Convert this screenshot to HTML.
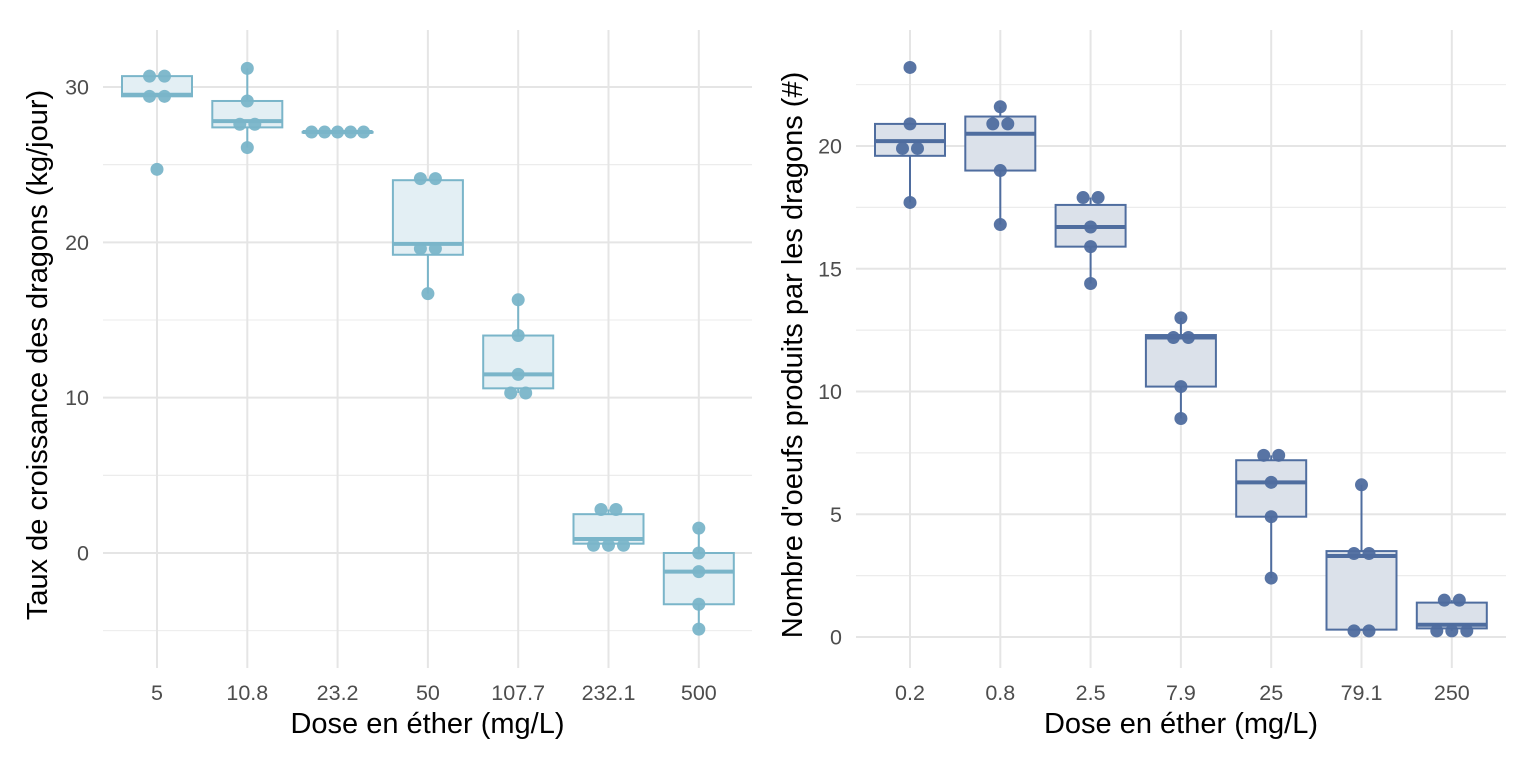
<!DOCTYPE html>
<html><head><meta charset="utf-8"><style>
html,body{margin:0;padding:0;background:#fff;}
svg{display:block;font-family:"Liberation Sans",sans-serif;}
</style></head><body>
<svg id="chart" width="1536" height="768"></svg>
<script>
const NS="http://www.w3.org/2000/svg";
const leftCats=["5","10.8","23.2","50","107.7","232.1","500"];
const leftQ1=[29.4,27.4,27.1,19.2,10.6,0.6,-3.3];
const leftMed=[29.5,27.8,27.1,19.9,11.5,0.9,-1.2];
const leftQ3=[30.7,29.1,27.1,24.0,14.0,2.5,0.0];
const leftLo=[29.4,26.1,27.1,16.7,10.3,0.5,-4.9];
const leftHi=[30.7,31.2,27.1,24.1,16.3,2.8,1.6];
const leftPts=[[30.7,30.7,29.4,29.4,24.7],[31.2,29.1,27.6,27.6,26.1],[27.1,27.1,27.1,27.1,27.1],[24.1,24.1,19.6,19.6,16.7],[16.3,14.0,11.5,10.3,10.3],[2.8,2.8,0.5,0.5,0.5],[1.6,0,-1.2,-3.3,-4.9]];
const leftTicks=[0,10,20,30];
const rightCats=["0.2","0.8","2.5","7.9","25","79.1","250"];
const rightQ1=[19.6,19.0,15.9,10.2,4.9,0.3,0.35];
const rightMed=[20.2,20.5,16.7,12.2,6.3,3.3,0.5];
const rightQ3=[20.9,21.2,17.6,12.3,7.2,3.5,1.4];
const rightLo=[17.7,16.8,14.4,8.9,2.4,0.25,0.25];
const rightHi=[20.9,21.6,17.9,13.0,7.4,6.2,1.5];
const rightPts=[[23.2,20.9,19.9,19.9,17.7],[21.6,20.9,20.9,19.0,16.8],[17.9,17.9,16.7,15.9,14.4],[13.0,12.2,12.2,10.2,8.9],[7.4,7.4,6.3,4.9,2.4],[6.2,3.4,3.4,0.25,0.25],[1.5,1.5,0.25,0.25,0.25]];
const rightTicks=[0,5,10,15,20];

const svg=document.getElementById('chart');
function el(tag,attrs,parent){const e=document.createElementNS(NS,tag);for(const k in attrs)e.setAttribute(k,attrs[k]);(parent||svg).appendChild(e);return e;}

function panel(cfg){
  const g=el('g',{});
  
  
  const y=v=>cfg.y0+(v-cfg.v0)*(cfg.y1-cfg.y0)/(cfg.v1-cfg.v0);
  const x=i=>cfg.x0+i*cfg.step;
  for(let i=0;i<cfg.ticks.length;i++){
    const dt=cfg.ticks[1]-cfg.ticks[0];
    [cfg.ticks[i]-dt/2, cfg.ticks[i]+dt/2].forEach(m=>{
      const yy=y(m); if(yy<cfg.top||yy>cfg.bot) return;
      const l=el('line',{x1:cfg.left,x2:cfg.right,y1:yy,y2:yy,stroke:'#ebebeb','stroke-width':1},g);
      
      
    });
  }
  cfg.ticks.forEach(t=>{
    const l=el('line',{x1:cfg.left,x2:cfg.right,y1:y(t),y2:y(t),stroke:'#e5e5e5','stroke-width':2},g);
    
    
    const tx=el('text',{x:cfg.left-14,y:y(t)+7.5,'text-anchor':'end','font-size':21.5,fill:'#4d4d4d'},g);
    tx.textContent=t;
    
    
  });
  cfg.cats.forEach((c,i)=>{
    const l=el('line',{x1:x(i),x2:x(i),y1:cfg.top,y2:cfg.bot,stroke:'#e5e5e5','stroke-width':2},g);
    
    
    const tx=el('text',{x:x(i),y:700,'text-anchor':'middle','font-size':21.5,fill:'#4d4d4d'},g);
    tx.textContent=c;
    
    
  });
  cfg.cats.forEach((c,i)=>{
    const cx=x(i),hw=35;
    const wl=el('line',{x1:cx,x2:cx,y1:y(cfg.hi[i]),y2:y(cfg.lo[i]),stroke:cfg.col,'stroke-width':2},g);
    
    
    const b=el('rect',{x:cx-hw,y:y(cfg.q3[i]),width:hw*2,height:Math.max(0.5,y(cfg.q1[i])-y(cfg.q3[i])),fill:cfg.fill,stroke:cfg.col,'stroke-width':2},g);
    
    
    const m=el('line',{x1:cx-hw,x2:cx+hw,y1:y(cfg.med[i]),y2:y(cfg.med[i]),stroke:cfg.col,'stroke-width':4},g);
    
    
    const pts=cfg.pts[i];
    const counts={};pts.forEach(p=>counts[p]=(counts[p]||0)+1);
    const seen={};
    pts.forEach(p=>{
      const n=counts[p],k=seen[p]||0;seen[p]=k+1;
      const off=(k-(n-1)/2)*(n>=5?13:15);
      const d=el('circle',{cx:cx+off,cy:y(p),r:6.5,fill:cfg.col,'fill-opacity':0.95},g);
      
      
    });
  });
  const xt=el('text',{x:(cfg.left+cfg.right)/2,y:733,'text-anchor':'middle','font-size':29,fill:'#000'},g);
  xt.textContent=cfg.xtitle;
  
  
  const yt=el('text',{x:0,y:0,'text-anchor':'middle','font-size':29,fill:'#000',transform:`translate(${cfg.ytx},${cfg.ymid}) rotate(-90)`},g);
  yt.textContent=cfg.ytitle;
  
  
}
panel({name:'growth-rate-panel',cats:leftCats,q1:leftQ1,med:leftMed,q3:leftQ3,lo:leftLo,hi:leftHi,pts:leftPts,ticks:leftTicks,
  v0:0,y0:553,v1:30,y1:87,x0:157,step:90.3,left:103,right:752,top:30,bot:668,col:'#7ab5c9',fill:'#e3eff4',
  xtitle:'Dose en éther (mg/L)',ytitle:'Taux de croissance des dragons (kg/jour)',ytx:47,ymid:355});
panel({name:'egg-count-panel',cats:rightCats,q1:rightQ1,med:rightMed,q3:rightQ3,lo:rightLo,hi:rightHi,pts:rightPts,ticks:rightTicks,
  v0:0,y0:637,v1:20,y1:146,x0:910,step:90.3,left:856,right:1506,top:30,bot:668,col:'#4f6d9f',fill:'#dbe1ea',
  xtitle:'Dose en éther (mg/L)',ytitle:"Nombre d'oeufs produits par les dragons (#)",ytx:802,ymid:355});
</script>
</body></html>
